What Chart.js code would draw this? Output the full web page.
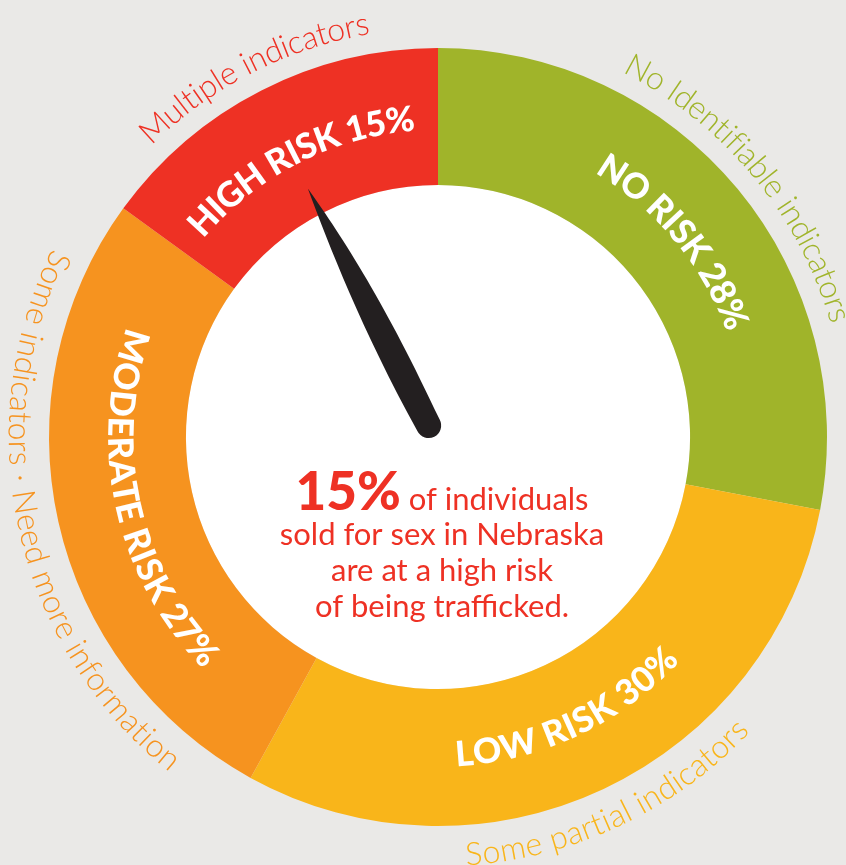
<!DOCTYPE html>
<html>
<head>
<meta charset="utf-8">
<title>Risk gauge</title>
<script src="https://cdn.jsdelivr.net/npm/chart.js@4.4.1/dist/chart.umd.min.js"></script>
<style>
  html, body { margin: 0; padding: 0; background: #eae9e7; }
  #wrap { width: 846px; height: 865px; position: relative; }
</style>
</head>
<body>
<div id="wrap"><canvas id="gauge"></canvas></div>
<script>
// data
const categories = ['NO RISK', 'LOW RISK', 'MODERATE RISK', 'HIGH RISK'];
const riskShares = [28, 30, 27, 15];
const descriptions = [
  'No Identifiable indicators',
  'Some partial indicators',
  'Some indicators · Need more information',
  'Multiple indicators'
];
const sliceColors = ['#a0b42a', '#f9b51a', '#f6931f', '#ee3124'];
const needleCategory = 'HIGH RISK';
const captionLines = ['of individuals', 'sold for sex in Nebraska', 'are at a high risk', 'of being trafficked.'];

const TEXT_RED = '#ee3124';
const NEEDLE = '#231f20';

// writes text along a circle, letters centred on angle theta (clockwise from top)
function drawArcText(ctx, text, cx, cy, r, theta, font, color) {
  ctx.save();
  ctx.font = font;
  ctx.fillStyle = color;
  ctx.textAlign = 'center';
  ctx.textBaseline = 'middle';
  const bottom = Math.cos(theta) < 0;
  const chars = [...text];
  const total = ctx.measureText(text).width;
  const span = total / r;
  let prefix = '';
  chars.forEach((ch) => {
    const w0 = ctx.measureText(prefix).width;
    prefix += ch;
    const w1 = ctx.measureText(prefix).width;
    const off = ((w0 + w1) / 2) / r - span / 2;
    ctx.save();
    ctx.translate(cx, cy);
    if (bottom) {
      ctx.rotate(theta - off - Math.PI);
      ctx.fillText(ch, 0, r);
    } else {
      ctx.rotate(theta + off);
      ctx.fillText(ch, 0, -r);
    }
    ctx.restore();
  });
  ctx.restore();
}

const gaugePlugin = {
  id: 'gaugeDecor',
  beforeDatasetsDraw(chart) {
    const arc = chart.getDatasetMeta(0).data[0];
    const ctx = chart.ctx;
    ctx.save();
    ctx.fillStyle = '#ffffff';
    ctx.beginPath();
    ctx.arc(arc.x, arc.y, arc.innerRadius, 0, Math.PI * 2);
    ctx.fill();
    ctx.restore();
  },
  afterDatasetsDraw(chart) {
    const ctx = chart.ctx;
    const arcs = chart.getDatasetMeta(0).data;
    const cx = arcs[0].x, cy = arcs[0].y;
    const rIn = arcs[0].innerRadius, rOut = arcs[0].outerRadius;
    const ringMid = (rIn + rOut) / 2 - 2;

    arcs.forEach((arc, i) => {
      const theta = (arc.startAngle + arc.endAngle) / 2 + Math.PI / 2;
      drawArcText(ctx, categories[i] + ' ' + riskShares[i] + '%', cx, cy, ringMid, theta,
        '900 35px Lato', '#ffffff');
      drawArcText(ctx, descriptions[i], cx, cy, rOut + 30, theta,
        '300 32px Lato', sliceColors[i]);
    });

    // needle pointing at the middle of the chosen slice
    const k = categories.indexOf(needleCategory);
    const target = arcs[k];
    const phi = (target.startAngle + target.endAngle) / 2 + Math.PI / 2;
    const L = rIn + 28;
    ctx.save();
    ctx.translate(cx - 3, cy + 1);
    ctx.rotate(phi);
    ctx.fillStyle = NEEDLE;
    ctx.beginPath();
    ctx.moveTo(0, -L);
    ctx.bezierCurveTo(9, -L + 60, 17, -140, 12.5, -14);
    ctx.arc(0, -14, 12.5, 0, Math.PI, false);
    ctx.bezierCurveTo(-16, -130, -7, -L + 60, 0, -L);
    ctx.closePath();
    ctx.fill();
    ctx.restore();

    // centre caption
    ctx.save();
    ctx.fillStyle = TEXT_RED;
    ctx.textBaseline = 'alphabetic';
    ctx.textAlign = 'left';
    const big = riskShares[k] + '%';
    const bigFont = '900 53px Lato';
    const smallFont = '400 31px Lato';
    ctx.font = bigFont;
    const wBig = ctx.measureText(big).width;
    ctx.font = smallFont;
    const wRest = ctx.measureText(' ' + captionLines[0]).width;
    const x0 = cx + 4 - (wBig + wRest) / 2;
    ctx.font = bigFont;
    ctx.fillText(big, x0, cy + 73);
    ctx.font = smallFont;
    ctx.fillText(' ' + captionLines[0], x0 + wBig, cy + 73);
    ctx.textAlign = 'center';
    [108, 144, 180].forEach((dy, j) => {
      ctx.fillText(captionLines[j + 1], cx + 4, cy + dy);
    });
    ctx.restore();
  }
};

new Chart(document.getElementById('gauge'), {
  type: 'doughnut',
  data: {
    labels: categories,
    datasets: [{
      data: riskShares,
      backgroundColor: sliceColors,
      borderWidth: 0,
      hoverOffset: 0
    }]
  },
  options: {
    responsive: true,
    maintainAspectRatio: false,
    animation: false,
    events: [],
    rotation: 0,
    cutout: '64.8%',
    layout: { padding: { left: 49, right: 19, top: 48, bottom: 39 } },
    plugins: {
      legend: { display: false },
      tooltip: { enabled: false }
    }
  },
  plugins: [gaugePlugin]
});
</script>
</body>
</html>
